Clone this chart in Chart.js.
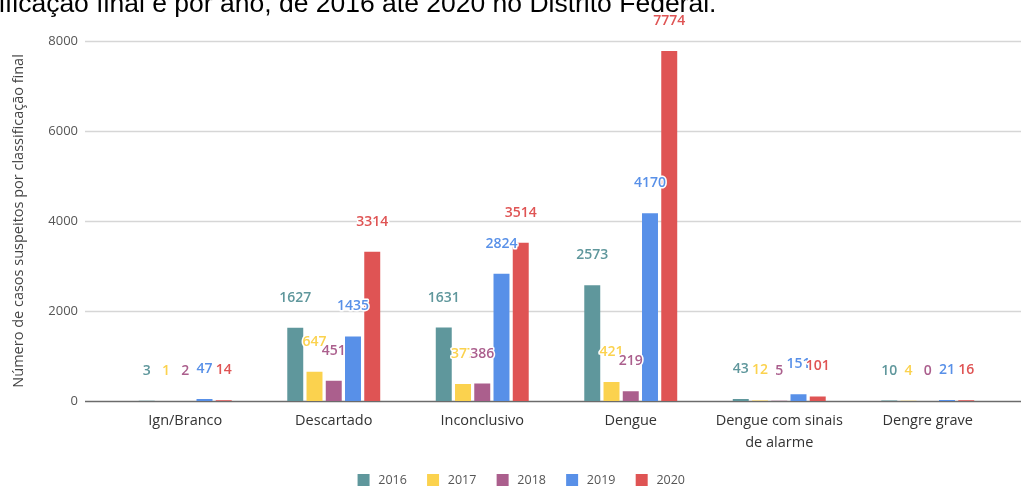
<!DOCTYPE html>
<html lang="pt-BR">
<head>
    <meta charset="UTF-8">
    <title>Casos suspeitos de dengue por classificação final, 2016–2020</title>
    <script src="https://cdn.jsdelivr.net/npm/chart.js"></script>
    <style>
        html, body { margin: 0; padding: 0; background: #fff; }
        canvas { display: block; }
    </style>
</head>
<body>
    <canvas id="casosChart" width="1021" height="486"></canvas>

    <script>
        // Categories and yearly counts
        const categories = ['Ign/Branco', 'Descartado', 'Inconclusivo', 'Dengue', ['Dengue com sinais', 'de alarme'], 'Dengre grave'];
        const years = ['2016', '2017', '2018', '2019', '2020'];
        const casos2016 = [3, 1627, 1631, 2573, 43, 10];
        const casos2017 = [1, 647, 377, 421, 12, 4];
        const casos2018 = [2, 451, 386, 219, 5, 0];
        const casos2019 = [47, 1435, 2824, 4170, 151, 21];
        const casos2020 = [14, 3314, 3514, 7774, 101, 16];
        const yTicks = [0, 2000, 4000, 6000, 8000];
        const headingText = 'ificação final e por ano, de 2016 até 2020 no Distrito Federal.';

        const series = [casos2016, casos2017, casos2018, casos2019, casos2020];
        const colors = ['#5f979c', '#fbd24e', '#ab5f8d', '#5890e8', '#df5454'];

        // legend marker: a square sitting in the right part of a wider transparent tile
        function swatch(color) {
            const c = document.createElement('canvas');
            c.width = 44; c.height = 12;
            const g = c.getContext('2d');
            g.fillStyle = color;
            g.fillRect(23, 0, 12, 12);
            return c;
        }
        const swatches = colors.map(swatch);

        // Heading line running off the top edge
        const headingPlugin = {
            id: 'heading',
            beforeDraw(chart) {
                const ctx = chart.ctx;
                ctx.save();
                ctx.font = '26.5px "Liberation Sans", Arial, sans-serif';
                ctx.fillStyle = '#000';
                ctx.textBaseline = 'alphabetic';
                ctx.textAlign = 'left';
                ctx.fillText(headingText, -1, 12);
                ctx.restore();
            }
        };

        // nudge the legend a little to the right of the canvas centre
        const legendShift = {
            id: 'legendShift',
            afterLayout(chart) {
                if (chart.legend) chart.legend.left += 24;
            }
        };

        // Horizontal grid lines spanning the full width
        const gridPlugin = {
            id: 'wideGrid',
            beforeDatasetsDraw(chart) {
                const ctx = chart.ctx;
                const y = chart.scales.y;
                ctx.save();
                yTicks.forEach(v => {
                    const py = Math.round(y.getPixelForValue(v)) + 0.5;
                    ctx.beginPath();
                    ctx.moveTo(85, py);
                    ctx.lineTo(chart.width, py);
                    ctx.lineWidth = v === 0 ? 1.5 : 1.3;
                    ctx.strokeStyle = v === 0 ? '#6b6b6b' : '#d6d6d6';
                    ctx.stroke();
                });
                ctx.restore();
            }
        };

        // Value above every bar, with a white halo
        const valuePlugin = {
            id: 'barValues',
            afterDatasetsDraw(chart) {
                const ctx = chart.ctx;
                ctx.save();
                ctx.font = '600 14px "Open Sans", sans-serif';
                ctx.textAlign = 'center';
                ctx.textBaseline = 'middle';
                ctx.lineJoin = 'round';
                chart.data.datasets.forEach((ds, i) => {
                    const meta = chart.getDatasetMeta(i);
                    meta.data.forEach((bar, j) => {
                        const txt = String(ds.data[j]);
                        const ty = bar.y - 30;
                        ctx.lineWidth = 3;
                        ctx.strokeStyle = '#fff';
                        ctx.strokeText(txt, bar.x, ty);
                        ctx.fillStyle = colors[i];
                        ctx.fillText(txt, bar.x, ty);
                    });
                });
                ctx.restore();
            }
        };

        const ctx = document.getElementById('casosChart').getContext('2d');

        const chart = new Chart(ctx, {
            type: 'bar',
            data: {
                labels: categories,
                datasets: years.map((yr, i) => ({
                    label: yr,
                    data: series[i],
                    backgroundColor: colors[i],
                    borderWidth: 0,
                    categoryPercentage: 0.648,
                    barPercentage: 0.83
                }))
            },
            options: {
                responsive: false,
                animation: false,
                layout: {
                    padding: { top: 40, right: 19, left: 0, bottom: -10.2 }
                },
                scales: {
                    x: {
                        grid: { display: false, drawTicks: false },
                        border: { display: false },
                        ticks: {
                            autoSkip: false,
                            maxRotation: 0,
                            padding: 9,
                            color: '#333',
                            font: { family: '"Open Sans", sans-serif', size: 14.5, lineHeight: 1.5 }
                        },
                        afterFit: s => { s.height = 69; }
                    },
                    y: {
                        min: 0,
                        max: 8000,
                        grid: { display: false, drawTicks: false },
                        border: { display: false },
                        afterBuildTicks: s => { s.ticks = yTicks.map(v => ({ value: v })); },
                        afterFit: s => { s.width = 111; },
                        ticks: {
                            padding: 33,
                            color: '#555',
                            font: { family: '"Open Sans", sans-serif', size: 13 },
                            callback: v => String(v)
                        },
                        title: {
                            display: true,
                            text: 'Número de casos suspeitos por classificação final',
                            color: '#444',
                            padding: { top: 10, bottom: 0 },
                            font: { family: '"Open Sans", sans-serif', size: 14.5 }
                        }
                    }
                },
                plugins: {
                    tooltip: { enabled: false },
                    legend: {
                        position: 'bottom',
                        labels: {
                            usePointStyle: true,
                            pointStyleWidth: 31,
                            boxHeight: 12,
                            padding: 3.7,
                            color: '#555',
                            font: { family: '"Open Sans", sans-serif', size: 12.5 },
                            generateLabels: c => Chart.defaults.plugins.legend.labels.generateLabels(c)
                                .map((item, i) => ({ ...item, pointStyle: swatches[i] }))
                        }
                    }
                }
            },
            plugins: [headingPlugin, legendShift, gridPlugin, valuePlugin]
        });
    </script>
</body>
</html>
